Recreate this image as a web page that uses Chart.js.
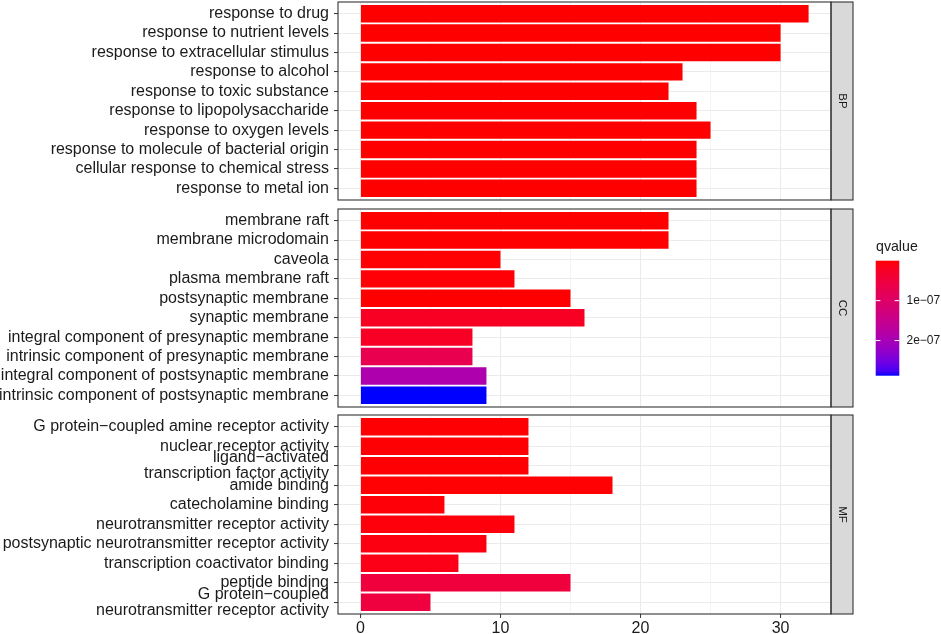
<!DOCTYPE html>
<html>
<head>
<meta charset="utf-8">
<script src="https://cdn.jsdelivr.net/npm/chart.js@4.4.1/dist/chart.umd.min.js"></script>
<style>
  html, body { margin: 0; padding: 0; background: #fff; }
  #wrap { position: relative; width: 941px; height: 634px; }
  #wrap canvas { position: absolute; left: 0; }
</style>
</head>
<body>
<div id="wrap">
  <canvas id="bp" width="941" height="204" style="top:0px"></canvas>
  <canvas id="cc" width="941" height="206" style="top:204px"></canvas>
  <canvas id="mf" width="941" height="224" style="top:410px"></canvas>
</div>
<script>
// BP
const bpTerms = [
  'response to drug',
  'response to nutrient levels',
  'response to extracellular stimulus',
  'response to alcohol',
  'response to toxic substance',
  'response to lipopolysaccharide',
  'response to oxygen levels',
  'response to molecule of bacterial origin',
  'cellular response to chemical stress',
  'response to metal ion',
];
const bpCounts = [32, 30, 30, 23, 22, 24, 25, 24, 24, 24];
const bpQvalues = [1.2e-19, 3.5e-17, 8.1e-17, 4.4e-13, 2.1e-12, 6.3e-13, 1.8e-13, 9.7e-13, 1.1e-12, 2.6e-12];

// CC
const ccTerms = [
  'membrane raft',
  'membrane microdomain',
  'caveola',
  'plasma membrane raft',
  'postsynaptic membrane',
  'synaptic membrane',
  'integral component of presynaptic membrane',
  'intrinsic component of presynaptic membrane',
  'integral component of postsynaptic membrane',
  'intrinsic component of postsynaptic membrane',
];
const ccCounts = [22, 22, 10, 11, 15, 16, 8, 8, 9, 9];
const ccQvalues = [4.8e-13, 4.8e-13, 1.5e-9, 2.2e-9, 6.1e-10, 2.2e-8, 2.4e-8, 7.0e-8, 1.9e-7, 2.88e-7];

// MF
const mfTerms = [
  'G protein\u2212coupled amine receptor activity',
  'nuclear receptor activity',
  'ligand\u2212activated\ntranscription factor activity',
  'amide binding',
  'catecholamine binding',
  'neurotransmitter receptor activity',
  'postsynaptic neurotransmitter receptor activity',
  'transcription coactivator binding',
  'peptide binding',
  'G protein\u2212coupled\nneurotransmitter receptor activity',
];
const mfCounts = [12, 12, 12, 18, 6, 11, 9, 7, 15, 5];
const mfQvalues = [2.0e-9, 2.0e-9, 2.0e-9, 1.4e-9, 3.1e-9, 5.2e-9, 8.8e-9, 1.2e-8, 5.0e-8, 5.2e-8];

const xTicks = [0, 10, 20, 30];
const xGridTicks = [0, 5, 10, 15, 20, 25, 30];
const qBreaks = [1e-7, 2e-7];
const qBreakLabels = ['1e\u221207', '2e\u221207'];

const FONT = "'Liberation Sans', Arial, Helvetica, sans-serif";
const axisFont = { family: FONT, size: 16, lineHeight: 1 };

// red -> blue gradient interpolated in Lab, like ggplot
function rgb2lab([r, g, b]) {
  const lin = c => { c /= 255; return c <= 0.04045 ? c / 12.92 : Math.pow((c + 0.055) / 1.055, 2.4); };
  const R = lin(r), G = lin(g), B = lin(b);
  const X = (R * 0.4124 + G * 0.3576 + B * 0.1805) / 0.95047;
  const Y = R * 0.2126 + G * 0.7152 + B * 0.0722;
  const Z = (R * 0.0193 + G * 0.1192 + B * 0.9505) / 1.08883;
  const f = t => t > 0.008856 ? Math.cbrt(t) : 7.787 * t + 16 / 116;
  return [116 * f(Y) - 16, 500 * (f(X) - f(Y)), 200 * (f(Y) - f(Z))];
}
function lab2rgb([L, a, b]) {
  const fy = (L + 16) / 116, fx = fy + a / 500, fz = fy - b / 200;
  const finv = t => t * t * t > 0.008856 ? t * t * t : (t - 16 / 116) / 7.787;
  const X = finv(fx) * 0.95047, Y = finv(fy), Z = finv(fz) * 1.08883;
  const R = 3.2406 * X - 1.5372 * Y - 0.4986 * Z;
  const G = -0.9689 * X + 1.8758 * Y + 0.0415 * Z;
  const B = 0.0557 * X - 0.2040 * Y + 1.0570 * Z;
  const gam = c => { c = Math.min(1, Math.max(0, c)); return c <= 0.0031308 ? 12.92 * c : 1.055 * Math.pow(c, 1 / 2.4) - 0.055; };
  return [R, G, B].map(c => Math.round(gam(c) * 255));
}
const LOW = rgb2lab([255, 0, 0]);
const HIGH = rgb2lab([0, 0, 255]);
const allQ = bpQvalues.concat(ccQvalues, mfQvalues);
const qMin = Math.min(...allQ);
const qMax = Math.max(...allQ);
function colorAt(t) {
  const lab = LOW.map((v, i) => v + (HIGH[i] - v) * t);
  const [r, g, b] = lab2rgb(lab);
  return `rgb(${r},${g},${b})`;
}
const qColor = q => colorAt((q - qMin) / (qMax - qMin));

// panel border + facet strip
function frame(label) {
  return {
    id: 'frame',
    afterDraw(chart) {
      const { ctx, chartArea: a } = chart;
      ctx.save();
      ctx.fillStyle = '#D9D9D9';
      ctx.fillRect(a.right, a.top, 22, a.bottom - a.top);
      ctx.strokeStyle = '#333333';
      ctx.lineWidth = 1.1;
      ctx.strokeRect(a.left, a.top, a.right - a.left, a.bottom - a.top);
      ctx.strokeRect(a.right, a.top, 22, a.bottom - a.top);
      ctx.translate(a.right + 11, (a.top + a.bottom) / 2);
      ctx.rotate(Math.PI / 2);
      ctx.fillStyle = '#1A1A1A';
      ctx.font = `11.5px ${FONT}`;
      ctx.textAlign = 'center';
      ctx.textBaseline = 'middle';
      ctx.fillText(label, 0, 0);
      ctx.restore();
    },
  };
}

// colour bar legend, drawn on the CC canvas (page offset 204)
const qLegend = {
  id: 'qLegend',
  afterDraw(chart) {
    const ctx = chart.ctx;
    const off = 204;
    const x = 875.7, w = 23.6, top = 260.7 - off, h = 115;
    ctx.save();
    const grad = ctx.createLinearGradient(0, top, 0, top + h);
    for (let i = 0; i <= 30; i++) grad.addColorStop(i / 30, colorAt(i / 30));
    ctx.fillStyle = grad;
    ctx.fillRect(x, top, w, h);
    ctx.fillStyle = '#1A1A1A';
    ctx.font = `14.2px ${FONT}`;
    ctx.textAlign = 'left';
    ctx.textBaseline = 'middle';
    ctx.fillText('qvalue', 876, 247 - off);
    ctx.font = `12px ${FONT}`;
    ctx.strokeStyle = '#FFFFFF';
    ctx.lineWidth = 1;
    qBreaks.forEach((q, i) => {
      const y = top + (q - qMin) / (qMax - qMin) * h;
      ctx.beginPath();
      ctx.moveTo(x, y); ctx.lineTo(x + w / 5, y);
      ctx.moveTo(x + w * 4 / 5, y); ctx.lineTo(x + w, y);
      ctx.stroke();
      ctx.fillText(qBreakLabels[i], 906.5, y);
    });
    ctx.restore();
  },
};

function makePanel(id, terms, counts, qvalues, strip, o) {
  return new Chart(document.getElementById(id), {
    type: 'bar',
    data: {
      datasets: [{
        data: counts.map((c, i) => ({ x: c, y: i })),
        backgroundColor: qvalues.map(qColor),
        barPercentage: 0.9,
        categoryPercentage: 1,
        borderWidth: 0,
      }],
    },
    options: {
      indexAxis: 'y',
      responsive: false,
      animation: false,
      events: [],
      layout: { padding: { left: 0, right: 110, top: o.top, bottom: o.bottom } },
      plugins: { legend: { display: false }, tooltip: { enabled: false } },
      scales: {
        x: {
          type: 'linear', min: -1.6, max: 33.6, bounds: 'data', offset: false,
          afterBuildTicks: s => { s.ticks = xGridTicks.map(v => ({ value: v })); },
          afterFit: s => { s.height = o.axis ? 20 : 0; s.paddingLeft = 0; s.paddingRight = 0; },
          border: { display: false },
          grid: {
            color: '#EBEBEB',
            offset: false,
            lineWidth: c => xTicks.includes(c.tick.value) ? 1.1 : 0.55,
            drawTicks: o.axis,
            tickLength: 4,
            tickWidth: 1,
            tickColor: c => xTicks.includes(c.tick.value) ? '#333333' : 'rgba(0,0,0,0)',
          },
          ticks: {
            display: o.axis, autoSkip: false, maxRotation: 0, padding: 3,
            color: '#1A1A1A', font: axisFont,
            callback: v => xTicks.includes(v) ? String(v) : '',
          },
        },
        y: {
          type: 'linear', reverse: true, min: -0.6, max: terms.length - 0.4, bounds: 'data', offset: false,
          afterBuildTicks: s => { s.ticks = terms.map((_, i) => ({ value: i })); },
          afterFit: s => { s.width = 338; s.paddingTop = 0; s.paddingBottom = 0; },
          border: { display: false },
          grid: { color: '#EBEBEB', lineWidth: 1.1, offset: false, tickLength: 4, tickWidth: 1, tickColor: '#333333' },
          ticks: {
            autoSkip: false, padding: 5, color: '#1A1A1A', font: axisFont,
            callback: v => terms[v].split('\n'),
          },
        },
      },
    },
    plugins: [frame(strip)].concat(o.extra || []),
  });
}

makePanel('bp', bpTerms, bpCounts, bpQvalues, 'BP', { top: 2, bottom: 4, axis: false });
makePanel('cc', ccTerms, ccCounts, ccQvalues, 'CC', { top: 5, bottom: 3, axis: false, extra: [qLegend] });
makePanel('mf', mfTerms, mfCounts, mfQvalues, 'MF', { top: 5, bottom: 0, axis: true });
</script>
</body>
</html>
